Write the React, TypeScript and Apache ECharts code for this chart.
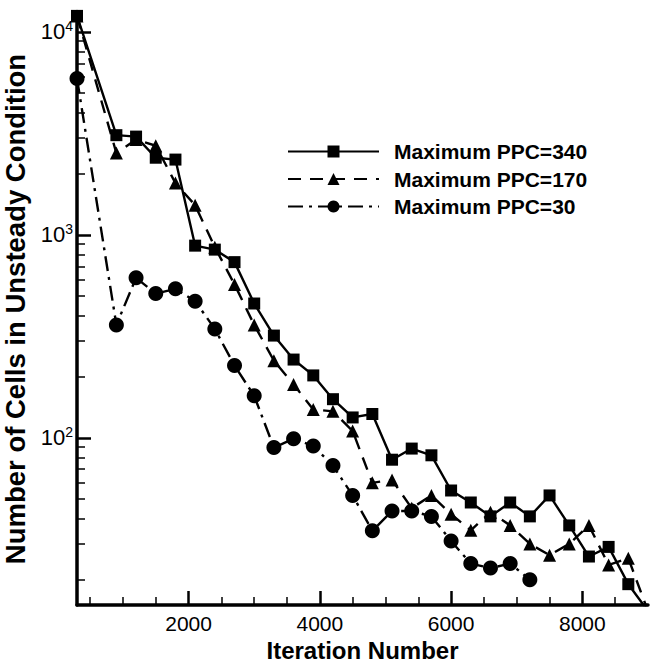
import React, { useEffect, useRef } from "react";
import * as echarts from "echarts";

const iterations = [300, 900, 1200, 1500, 1800, 2100, 2400, 2700, 3000, 3300, 3600, 3900, 4200, 4500, 4800, 5100, 5400, 5700, 6000, 6300, 6600, 6900, 7200, 7500, 7800, 8100, 8400, 8700, 9000];

const ppc340 = [12000, 3100, 3050, 2400, 2350, 885, 846, 734, 459, 319, 243, 203, 155, 126, 131, 78, 88.5, 82, 55, 48, 41, 48, 41, 52, 37, 26, 29, 19, 14];
const ppc170 = [12000, 2530, 2950, 2750, 1800, 1400, 870, 570, 360, 240, 183, 138, 135, 108, 60, 62, 45, 52, 42, 35, 43, 37, 30, 26.4, 30, 37, 23.6, 25.5, 14];
const ppc30 = [5900, 360, 614, 514, 542, 471, 344, 227, 161, 89.5, 99, 91, 73, 52, 34.8, 43.6, 43.6, 41, 31, 24, 22.8, 24, 20];

const seriesNames = ["Maximum PPC=340", "Maximum PPC=170", "Maximum PPC=30"];

const xMajorTicks = [2000, 4000, 6000, 8000];
const xMinorTicks = [500, 1000, 1500, 2500, 3000, 3500, 4500, 5000, 5500, 6500, 7000, 7500, 8500];
const yMajorTicks = [100, 1000, 10000];
const yMinorTicks = [20, 30, 40, 50, 60, 70, 80, 90, 200, 300, 400, 500, 600, 700, 800, 900, 2000, 3000, 4000, 5000, 6000, 7000, 8000, 9000];

const FONT = "'Liberation Sans', Arial, Helvetica, sans-serif";

export default function App() {
  const ref = useRef<HTMLDivElement>(null);
  useEffect(() => {
    if (!ref.current) return;
    const chart = echarts.init(ref.current, undefined, { renderer: "svg" });
    const pairs = (vals: number[]) => vals.map((v, i) => [iterations[i], v]);
    const black = "#000";
    chart.setOption({
      animation: false,
      backgroundColor: "#fff",
      textStyle: { fontFamily: FONT, color: black },
      grid: { left: 77, right: 3, top: 13, bottom: 59, outerBoundsMode: "none" },
      legend: {
        orient: "vertical",
        left: 287,
        top: 141,
        padding: 0,
        itemWidth: 91,
        itemHeight: 15,
        itemGap: 6.5,
        data: seriesNames,
        textStyle: { fontSize: 21, fontWeight: "bold", color: black, fontFamily: FONT, padding: [0, 0, 0, 10], lineHeight: 21 },
      },
      xAxis: [
        {
          type: "value",
          min: 300,
          max: 9000,
          position: "bottom",
          axisLine: { lineStyle: { color: black, width: 3.5 } },
          axisTick: { inside: true, length: 14, lineStyle: { color: black, width: 2.5 }, customValues: xMajorTicks },
          axisLabel: { customValues: xMajorTicks, fontSize: 21, color: black, margin: 8, fontFamily: FONT, formatter: (v: number) => String(v) },
          splitLine: { show: false },
          name: "Iteration Number",
          nameLocation: "middle",
          nameGap: 25,
          nameTextStyle: { fontSize: 24, fontWeight: "bold", color: black, fontFamily: FONT },
        },
        {
          type: "value",
          min: 300,
          max: 9000,
          position: "bottom",
          axisLine: { show: false },
          axisTick: { inside: true, length: 8, lineStyle: { color: black, width: 1.5 }, customValues: xMinorTicks },
          axisLabel: { show: false },
          splitLine: { show: false },
        },
      ],
      yAxis: [
        {
          type: "log",
          logBase: 10,
          min: 15,
          max: 12400,
          position: "left",
          axisLine: { lineStyle: { color: black, width: 3.5 } },
          axisTick: { inside: true, length: 14, lineStyle: { color: black, width: 2.5 }, customValues: yMajorTicks },
          axisLabel: {
            customValues: yMajorTicks,
            margin: 4,
            color: black,
            fontFamily: FONT,
            fontSize: 22,
            formatter: (v: number) => "10{sup|" + Math.round(Math.log10(v)) + "}",
            rich: {
              sup: { fontSize: 14, padding: [0, 0, 11, 0], color: black, fontFamily: FONT },
            },
          },
          splitLine: { show: false },
          name: "Number of Cells in Unsteady Condition",
          nameLocation: "middle",
          nameGap: 37,
          nameTextStyle: { fontSize: 27.5, fontWeight: "bold", color: black, fontFamily: FONT },
        },
        {
          type: "log",
          logBase: 10,
          min: 15,
          max: 12400,
          position: "left",
          axisLine: { show: false },
          axisTick: { inside: true, length: 8, lineStyle: { color: black, width: 1.5 }, customValues: yMinorTicks },
          axisLabel: { show: false },
          splitLine: { show: false },
        },
      ],
      series: [
        {
          name: seriesNames[0],
          type: "line",
          xAxisIndex: 0,
          yAxisIndex: 0,
          data: pairs(ppc340),
          symbol: "rect",
          symbolSize: 12,
          lineStyle: { color: black, width: 2.4, type: "solid" },
          itemStyle: { color: black },
        },
        {
          name: seriesNames[1],
          type: "line",
          xAxisIndex: 0,
          yAxisIndex: 0,
          data: pairs(ppc170),
          symbol: "triangle",
          symbolSize: 13,
          lineStyle: { color: black, width: 2.4, type: [13, 9] },
          itemStyle: { color: black },
        },
        {
          name: seriesNames[2],
          type: "line",
          xAxisIndex: 0,
          yAxisIndex: 0,
          data: pairs(ppc30),
          symbol: "circle",
          symbolSize: 15,
          lineStyle: { color: black, width: 2.4, type: [15, 6, 3, 6] },
          itemStyle: { color: black },
        },
      ],
    });
    return () => chart.dispose();
  }, []);
  return <div ref={ref} style={{ position: "fixed", left: 0, top: 0, width: 651, height: 664 }} />;
}
